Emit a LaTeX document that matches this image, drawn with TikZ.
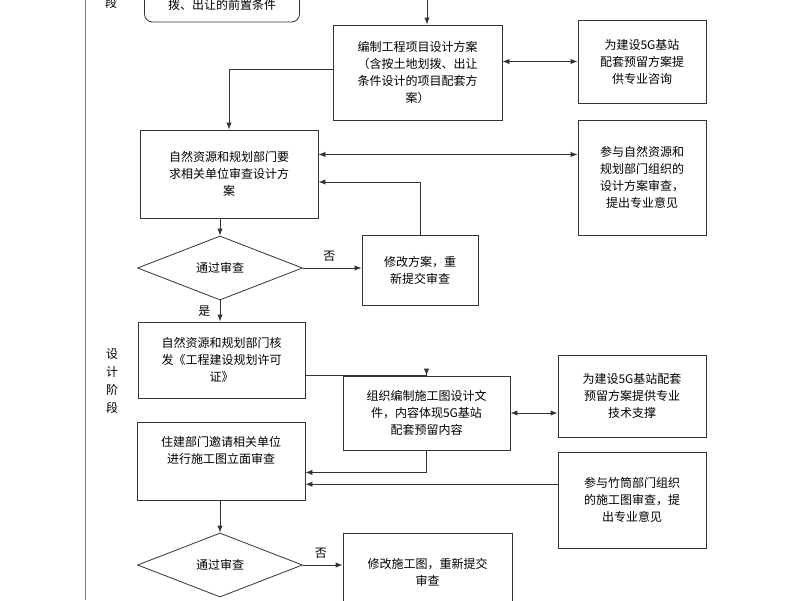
\documentclass[tikz,border=0pt]{standalone}
\usepackage{fontspec}
\setmainfont{Noto Sans CJK SC}
\usetikzlibrary{shapes.geometric, arrows.meta, positioning, calc}

\begin{document}
\begin{tikzpicture}[x=1pt, y=-1pt,
    box/.style={rectangle, draw=black!80, thick, align=center, font=\fontsize{12}{17}\selectfont, inner sep=2pt},
    dec/.style={diamond, draw=black!80, thick, aspect=2.6, inner sep=1pt, font=\fontsize{12}{14}\selectfont},
    arr/.style={-{Latex[length=7pt]}, thick, draw=black!80},
    darr/.style={{Latex[length=7pt]}-{Latex[length=7pt]}, thick, draw=black!80},
    lbl/.style={font=\fontsize{12}{14}\selectfont}]
    \useasboundingbox (0,0) rectangle (800,600);

    % frame and stage labels
    \draw[thick, black!50] (85,0) -- (85,600);
    \node[lbl] (stageA) at (111,3) {段};
    \node[lbl, align=center, font=\fontsize{12}{18}\selectfont] (stageB) at (112,381) {设\\计\\阶\\段};

    % first column
    \node[box, rounded corners=8pt, minimum width=155pt, minimum height=34pt] (pre) at (222,5) {拨、出让的前置条件};
    \coordinate (top) at (427,0);
    \node[box, minimum width=169pt, minimum height=95pt, text width=160pt] (plan) at (417.5,72.5) {编制工程项目设计方案\\（含按土地划拨、出让\\条件设计的项目配套方\\案）};
    \node[box, minimum width=178pt, minimum height=88pt, text width=170pt] (review) at (229,174) {自然资源和规划部门要\\求相关单位审查设计方\\案};
    \node[dec, minimum width=165pt, minimum height=64pt] (pass1) at (220,268) {通过审查};
    \node[box, minimum width=116pt, minimum height=70pt, text width=100pt, anchor=north] (fix1) at (420,235) {修改方案，重\\新提交审查};
    \node[box, minimum width=167pt, minimum height=76pt, text width=160pt] (permit) at (221.5,360) {自然资源和规划部门核\\发《工程建设规划许可\\证》};
    \node[box, minimum width=167pt, minimum height=74pt, text width=160pt] (draw) at (426.5,413) {组织编制施工图设计文\\件，内容体现5G基站\\配套预留内容};
    \node[box, minimum width=168pt, minimum height=78pt, text width=160pt, anchor=north] (check) at (221,422) {\\[-28pt]住建部门邀请相关单位\\进行施工图立面审查};
    \node[dec, minimum width=165pt, minimum height=64pt] (pass2) at (220,565) {通过审查};
    \node[box, minimum width=169pt, minimum height=77pt, text width=160pt, anchor=north] (fix2) at (427.5,533) {修改施工图，重新提交\\审查\\[16pt]};

    % right column
    \node[box, minimum width=128pt, minimum height=83pt, text width=120pt] (r1) at (642,61.5) {为建设5G基站\\配套预留方案提\\供专业咨询};
    \node[box, minimum width=128pt, minimum height=115pt, text width=120pt] (r2) at (642,177.5) {参与自然资源和\\规划部门组织的\\设计方案审查，\\提出专业意见};
    \node[box, minimum width=148pt, minimum height=82pt, text width=140pt] (r3) at (632,396) {为建设5G基站配套\\预留方案提供专业\\技术支撑};
    \node[box, minimum width=148pt, minimum height=96pt, text width=140pt] (r4) at (632,500) {参与竹筒部门组织\\的施工图审查，提\\出专业意见};

    % connectors
    \draw[arr] (top) -- (top |- plan.north);
    \draw[darr] (plan.east |- r1.west) -- (r1.west);
    \draw[arr] ([yshift=3pt]plan.west) -| (review.north);
    \draw[darr] ($(review.north east)!0.28!(review.south east)$) -- (r2.west |- {$(review.north east)!0.28!(review.south east)$});
    \draw[arr] (fix1.north) |- ($(review.north east)!0.59!(review.south east)$);
    \draw[arr] (review.south -| pass1.north) -- (pass1.north);
    \draw[arr] (pass1.east) -- (fix1.west |- pass1.east) node[lbl, pos=0.45, above=3pt] {否};
    \draw[arr] (pass1.south) -- (pass1.south |- permit.north) node[lbl, midway, left=6pt] {是};
    \draw[arr] ([yshift=-15pt]permit.east) -| (draw.north);
    \draw[darr] (draw.east) -- (draw.east -| r3.west);
    \draw[arr] (draw.south) |- ($(check.north east)!0.64!(check.south east)$);
    \draw[arr] (r4.west |- {$(check.north east)!0.79!(check.south east)$}) -- ($(check.north east)!0.79!(check.south east)$);
    \draw[arr] (check.south -| pass2.north) -- (pass2.north);
    \draw[arr] (pass2.east) -- (fix2.west |- pass2.east) node[lbl, pos=0.45, above=3pt] {否};
\end{tikzpicture}
\end{document}
